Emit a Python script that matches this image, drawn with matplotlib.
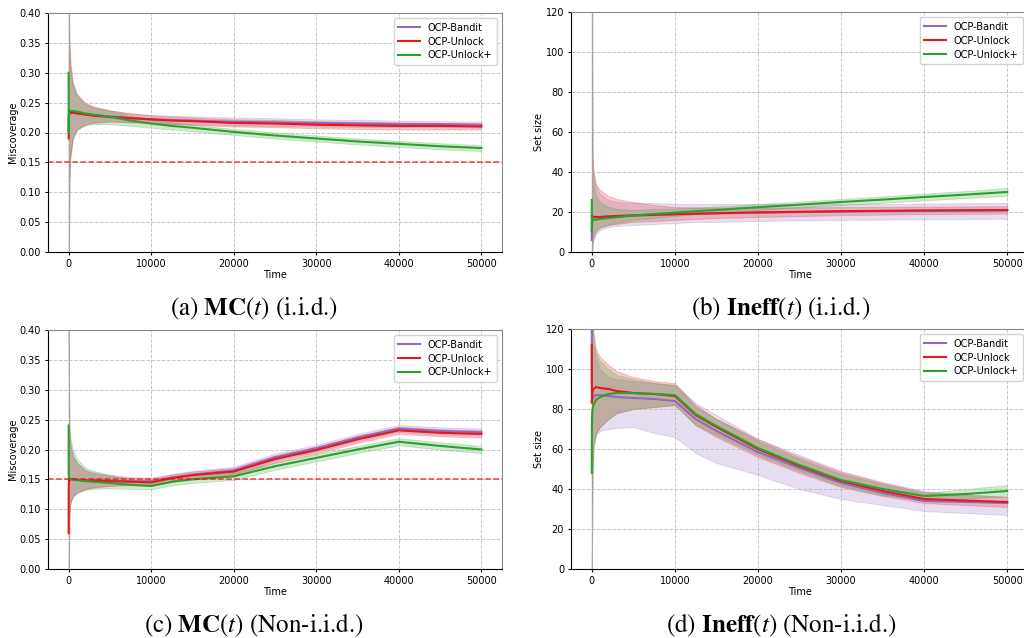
import matplotlib
matplotlib.use("Agg")
import matplotlib.pyplot as plt

# ---------------- data ----------------
time_pts = [1, 10, 50, 100, 200, 500, 1000, 2000, 3000, 5000, 7500, 10000,
            12500, 15000, 20000, 25000, 30000, 35000, 40000, 45000, 50000]
methods = ["OCP-Bandit", "OCP-Unlock", "OCP-Unlock+"]

# (a) Miscoverage, i.i.d.
mc_iid_bandit = [0.21, 0.225, 0.232, 0.233, 0.234, 0.234, 0.233, 0.231, 0.229, 0.227, 0.224,
                 0.222, 0.221, 0.220, 0.218, 0.217, 0.216, 0.215, 0.214, 0.214, 0.213]
mc_iid_bandit_lo = [0.0, 0.0, 0.02, 0.12, 0.16, 0.19, 0.205, 0.214, 0.217, 0.219, 0.217,
                    0.216, 0.215, 0.214, 0.212, 0.211, 0.210, 0.209, 0.209, 0.209, 0.208]
mc_iid_bandit_hi = [0.40, 0.40, 0.40, 0.34, 0.31, 0.28, 0.262, 0.248, 0.242, 0.237, 0.232,
                    0.229, 0.228, 0.227, 0.225, 0.224, 0.222, 0.221, 0.220, 0.219, 0.218]
mc_iid_unlock = [0.19, 0.20, 0.232, 0.233, 0.233, 0.233, 0.232, 0.230, 0.228, 0.226, 0.224,
                 0.222, 0.220, 0.219, 0.216, 0.215, 0.213, 0.212, 0.211, 0.211, 0.210]
mc_iid_unlock_lo = [0.0, 0.0, 0.02, 0.12, 0.16, 0.19, 0.205, 0.213, 0.216, 0.218, 0.217,
                    0.215, 0.214, 0.213, 0.210, 0.209, 0.207, 0.206, 0.205, 0.205, 0.205]
mc_iid_unlock_hi = [0.40, 0.40, 0.40, 0.35, 0.32, 0.285, 0.265, 0.25, 0.244, 0.237, 0.232,
                    0.229, 0.227, 0.225, 0.222, 0.221, 0.219, 0.218, 0.217, 0.216, 0.215]
mc_iid_plus = [0.30, 0.20, 0.236, 0.237, 0.236, 0.236, 0.235, 0.232, 0.230, 0.226, 0.220,
               0.215, 0.211, 0.208, 0.201, 0.195, 0.190, 0.185, 0.181, 0.177, 0.174]
mc_iid_plus_lo = [0.0, 0.0, 0.02, 0.12, 0.16, 0.19, 0.205, 0.212, 0.214, 0.214, 0.211,
                  0.208, 0.205, 0.202, 0.196, 0.190, 0.185, 0.180, 0.176, 0.172, 0.169]
mc_iid_plus_hi = [0.40, 0.40, 0.40, 0.34, 0.31, 0.28, 0.262, 0.248, 0.242, 0.236, 0.228,
                  0.222, 0.217, 0.213, 0.206, 0.200, 0.195, 0.190, 0.186, 0.182, 0.179]

# (b) Set size, i.i.d.
ss_iid_bandit = [6, 15, 17, 17, 17.5, 17.5, 17.5, 17.7, 17.9, 18.2, 18.5, 18.8, 19.1, 19.3,
                 19.7, 20.0, 20.2, 20.4, 20.5, 20.6, 20.7]
ss_iid_bandit_lo = [0, 0, 0, 3, 6, 9, 11, 12.5, 13, 13.5, 14, 14.5, 15, 15, 15.5, 15.8, 16,
                    16.2, 16.4, 16.5, 16.6]
ss_iid_bandit_hi = [120, 120, 120, 48, 40, 33, 29, 26, 25, 24.5, 24.5, 24, 24, 24, 24, 24, 24,
                    24, 24.2, 24.4, 24.5]
ss_iid_unlock = [18, 17, 18, 18, 17.5, 17.5, 17.5, 17.8, 18.0, 18.3, 18.6, 18.9, 19.2, 19.4,
                 19.8, 20.1, 20.4, 20.6, 20.8, 20.9, 21.0]
ss_iid_unlock_lo = [0, 0, 0, 5, 8, 11, 12.5, 13.5, 14, 15, 15.5, 16, 16.5, 17, 17.5, 18, 18.4,
                    18.7, 19, 19.1, 19.2]
ss_iid_unlock_hi = [120, 120, 120, 48, 40, 34, 31, 28, 26.5, 25, 23.5, 22.5, 22.3, 22.2, 22.2,
                    22.3, 22.5, 22.6, 22.7, 22.8, 22.9]
ss_iid_plus = [26, 10, 15, 16, 16, 16.2, 16.5, 17, 17.4, 18.2, 19, 19.7, 20.4, 21, 22.4, 23.7,
               25, 26.2, 27.5, 28.7, 30]
ss_iid_plus_lo = [0, 0, 0, 4, 7, 10, 12, 13.5, 14.5, 16, 17, 18, 18.8, 19.5, 21, 22.3, 23.5,
                  24.6, 25.8, 27, 28]
ss_iid_plus_hi = [120, 120, 120, 42, 34, 28, 25, 22.5, 21.5, 21, 21.5, 21.8, 22.2, 22.7, 24,
                  25.2, 26.5, 27.8, 29.2, 30.5, 32]

# (c) Miscoverage, non-i.i.d.
mc_non_bandit = [0.15, 0.15, 0.152, 0.152, 0.151, 0.151, 0.150, 0.149, 0.149, 0.148, 0.147,
                 0.147, 0.153, 0.158, 0.165, 0.187, 0.202, 0.220, 0.235, 0.231, 0.229]
mc_non_bandit_lo = [0.0, 0.0, 0.03, 0.09, 0.11, 0.122, 0.128, 0.134, 0.137, 0.140, 0.141,
                    0.141, 0.147, 0.152, 0.159, 0.181, 0.196, 0.214, 0.229, 0.225, 0.223]
mc_non_bandit_hi = [0.40, 0.40, 0.30, 0.23, 0.21, 0.19, 0.178, 0.166, 0.162, 0.158, 0.154,
                    0.153, 0.159, 0.164, 0.171, 0.193, 0.208, 0.226, 0.241, 0.237, 0.235]
mc_non_unlock = [0.06, 0.14, 0.148, 0.149, 0.150, 0.150, 0.149, 0.148, 0.148, 0.147, 0.146,
                 0.145, 0.152, 0.157, 0.163, 0.184, 0.199, 0.217, 0.232, 0.228, 0.226]
mc_non_unlock_lo = [0.0, 0.0, 0.03, 0.09, 0.11, 0.12, 0.127, 0.133, 0.136, 0.139, 0.140,
                    0.139, 0.146, 0.151, 0.157, 0.178, 0.193, 0.211, 0.226, 0.222, 0.220]
mc_non_unlock_hi = [0.40, 0.40, 0.30, 0.23, 0.21, 0.19, 0.178, 0.165, 0.160, 0.156, 0.152,
                    0.151, 0.158, 0.163, 0.169, 0.190, 0.205, 0.223, 0.238, 0.234, 0.232]
mc_non_plus = [0.24, 0.16, 0.152, 0.152, 0.151, 0.150, 0.149, 0.147, 0.146, 0.144, 0.141,
               0.139, 0.146, 0.150, 0.155, 0.172, 0.186, 0.200, 0.213, 0.206, 0.200]
mc_non_plus_lo = [0.0, 0.0, 0.03, 0.09, 0.11, 0.122, 0.128, 0.133, 0.134, 0.135, 0.134,
                  0.133, 0.140, 0.144, 0.149, 0.166, 0.180, 0.194, 0.207, 0.200, 0.194]
mc_non_plus_hi = [0.40, 0.40, 0.31, 0.24, 0.22, 0.20, 0.185, 0.17, 0.164, 0.157, 0.150,
                  0.145, 0.152, 0.156, 0.161, 0.178, 0.192, 0.206, 0.219, 0.212, 0.206]

# (d) Set size, non-i.i.d.
ss_non_bandit = [125, 95, 85, 85, 86, 87, 87, 86.5, 86, 85.5, 85, 84, 75, 69, 58.5, 50.5, 43,
                 38, 34, 33.5, 33]
ss_non_bandit_lo = [0, 0, 20, 50, 62, 67, 69, 70, 70.5, 71, 68, 66, 58, 53, 47, 40, 35, 32,
                    29, 28, 27]
ss_non_bandit_hi = [130, 130, 130, 120, 112, 105, 100, 96, 95, 94, 93, 92, 83, 77, 65, 57, 49,
                    43.5, 39, 37.5, 36]
ss_non_unlock = [112, 83, 87, 89, 90, 91, 90.5, 90, 89, 88, 87.5, 86.5, 77, 71, 60, 51.5, 44,
                 39, 35, 34.2, 33.5]
ss_non_unlock_lo = [0, 0, 20, 50, 62, 68, 71, 75, 78, 80, 81, 82, 72, 66, 56, 48, 41, 36.5,
                    33, 32, 31]
ss_non_unlock_hi = [130, 130, 130, 125, 118, 110, 106, 102, 99, 96, 94, 93, 82, 75, 65, 56,
                    48.5, 43, 38.5, 37, 36]
ss_non_plus = [48, 70, 78, 80, 82, 84.5, 86, 87.5, 88, 88, 87.5, 87, 77.5, 71.5, 60.5, 52,
               44.5, 40, 36.5, 37.5, 39]
ss_non_plus_lo = [0, 0, 20, 45, 60, 67, 71, 75, 78, 80, 81, 82, 72, 67, 57, 49, 41.5, 37,
                  34.5, 35, 36.5]
ss_non_plus_hi = [130, 130, 130, 122, 116, 108, 104, 100, 97, 95, 93, 92, 81, 75, 64, 55,
                  47.5, 42.5, 38, 40, 42]

captions = [r"(a) $\mathbf{MC}(t)$ (i.i.d.)", r"(b) $\mathbf{Ineff}(t)$ (i.i.d.)",
            r"(c) $\mathbf{MC}(t)$ (Non-i.i.d.)", r"(d) $\mathbf{Ineff}(t)$ (Non-i.i.d.)"]
target_level = 0.15

# ---------------- plotting ----------------
plt.rcParams["mathtext.fontset"] = "stix"
colors = ["#9467bd", "#e3191c", "#2ca02c"]
FS = 7.0

fig = plt.figure(figsize=(10.24, 6.38), dpi=100)
W, H = 1024, 638

def make_ax(left, top, right, bottom):
    return fig.add_axes([left / W, 1 - bottom / H, (right - left) / W, (bottom - top) / H])

axes = [make_ax(48, 13, 502, 252), make_ax(571, 12, 1028, 252),
        make_ax(48, 330, 502, 569), make_ax(571, 329, 1028, 569)]

panels = [
    ([(mc_iid_bandit, mc_iid_bandit_lo, mc_iid_bandit_hi),
      (mc_iid_unlock, mc_iid_unlock_lo, mc_iid_unlock_hi),
      (mc_iid_plus, mc_iid_plus_lo, mc_iid_plus_hi)], "Miscoverage", True),
    ([(ss_iid_bandit, ss_iid_bandit_lo, ss_iid_bandit_hi),
      (ss_iid_unlock, ss_iid_unlock_lo, ss_iid_unlock_hi),
      (ss_iid_plus, ss_iid_plus_lo, ss_iid_plus_hi)], "Set size", False),
    ([(mc_non_bandit, mc_non_bandit_lo, mc_non_bandit_hi),
      (mc_non_unlock, mc_non_unlock_lo, mc_non_unlock_hi),
      (mc_non_plus, mc_non_plus_lo, mc_non_plus_hi)], "Miscoverage", True),
    ([(ss_non_bandit, ss_non_bandit_lo, ss_non_bandit_hi),
      (ss_non_unlock, ss_non_unlock_lo, ss_non_unlock_hi),
      (ss_non_plus, ss_non_plus_lo, ss_non_plus_hi)], "Set size", False),
]

for ax, (series, ylabel, is_mc) in zip(axes, panels):
    for (mean, lo, hi), c, name in zip(series, colors, methods):
        ax.fill_between(time_pts, lo, hi, facecolor=c, edgecolor=c, alpha=0.22,
                        linewidth=0.7)
    for (mean, lo, hi), c, name in zip(series, colors, methods):
        ax.plot(time_pts, mean, color=c, lw=1.5, label=name)
    if is_mc:
        ax.axhline(target_level, color="red", ls="--", lw=1.1, alpha=0.75)
        ax.set_ylim(0, 0.40)
        ax.set_yticks([0.0, 0.05, 0.10, 0.15, 0.20, 0.25, 0.30, 0.35, 0.40])
        ax.set_yticklabels([f"{v:.2f}" for v in ax.get_yticks()])
    else:
        ax.set_ylim(0, 120)
        ax.set_yticks([0, 20, 40, 60, 80, 100, 120])
    ax.set_xlim(-2500, 52500)
    ax.set_xticks([0, 10000, 20000, 30000, 40000, 50000])
    ax.grid(True, ls="--", color="#b0b0b0", lw=0.7, alpha=0.7)
    ax.tick_params(labelsize=FS, length=2.5, width=0.8, pad=2.5)
    ax.set_xlabel("Time", fontsize=FS, labelpad=1)
    ax.set_ylabel(ylabel, fontsize=FS, labelpad=1)
    for s in ["top", "right"]:
        ax.spines[s].set_color("#888888")
    ax.legend(loc="upper right", fontsize=FS, framealpha=0.9, edgecolor="#d0d0d0",
              handlelength=2.2, labelspacing=0.4, borderpad=0.5)

cap_pos = [(254, 308), (781, 308), (254, 625), (781, 625)]
for (cx, cy), cap in zip(cap_pos, captions):
    fig.text(cx / W, 1 - cy / H, cap, ha="center", va="center", fontsize=18,
             family="STIXGeneral")

fig.savefig("out.png", dpi=100)
